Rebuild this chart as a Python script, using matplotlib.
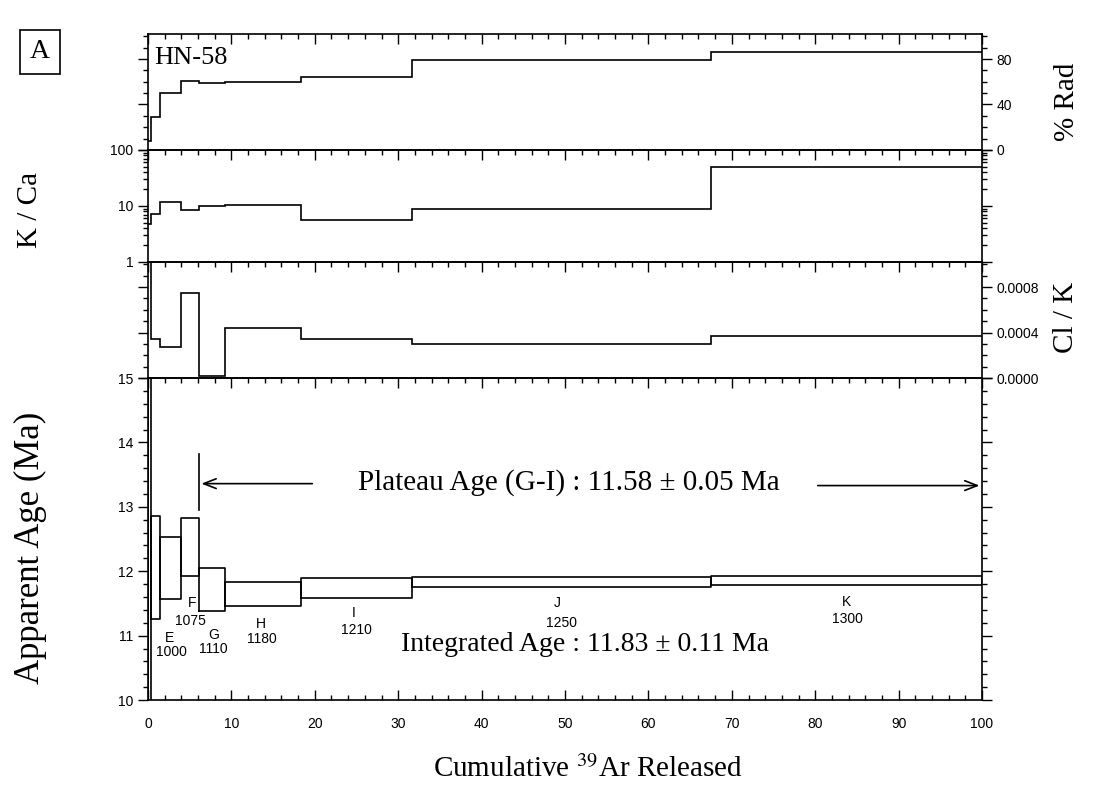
import matplotlib
matplotlib.use('Agg')
import matplotlib.pyplot as plt
from matplotlib.ticker import MultipleLocator, FormatStrFormatter, FuncFormatter, LogLocator, NullFormatter

plt.rcParams['font.family'] = ['Liberation Sans', 'DejaVu Sans']
plt.rcParams['mathtext.fontset'] = 'stix'
serif = ['Liberation Serif', 'DejaVu Serif']

# heating steps: cumulative % 39Ar released at step boundaries
edges = [0, 0.32, 1.5, 4.0, 6.1, 9.2, 18.3, 31.6, 67.5, 100]
rad = [8, 29, 50, 61, 59, 60, 64, 79, 86]                       # % radiogenic
kca = [4.7, 7.3, 11.6, 8.5, 9.8, 10.3, 5.7, 8.7, 50]            # K / Ca
clk = [0.0015, 0.000347, 0.000274, 0.000748, 0.00002,
       0.00044, 0.000345, 0.0003, 0.000365]                      # Cl / K
age_lo = [9.0, 11.26, 11.57, 11.93, 11.39, 11.46, 11.58, 11.75, 11.79]
age_hi = [16.0, 12.85, 12.53, 12.82, 12.05, 11.84, 11.90, 11.91, 11.93]

step_names = ['E', 'F', 'G', 'H', 'I', 'J', 'K']
step_temps = ['1000', '1075', '1110', '1180', '1210', '1250', '1300']
# label placement (x in % 39Ar, y in Ma)
name_xy = [(2.55, 10.97), (5.3, 11.5), (7.9, 11.01), (13.5, 11.18),
           (24.7, 11.35), (49.1, 11.51), (83.8, 11.52)]
temp_xy = [(2.8, 10.75), (5.1, 11.22), (7.8, 10.79), (13.6, 10.95),
           (25.0, 11.09), (49.6, 11.2), (83.9, 11.26)]

plateau_text = 'Plateau Age (G-I) : 11.58 ± 0.05 Ma'
integrated_text = 'Integrated Age : 11.83 ± 0.11 Ma'

LW = 1.2
fig = plt.figure(figsize=(10.97, 7.91), dpi=100)
L, W = 0.1349, 0.7603
ax_rad = fig.add_axes([L, 0.8104, W, 0.1466])
ax_kca = fig.add_axes([L, 0.6688, W, 0.1416])
ax_clk = fig.add_axes([L, 0.5221, W, 0.1467])
ax_age = fig.add_axes([L, 0.1150, W, 0.4071])


def style(ax, bottom=False):
    ax.patch.set_alpha(0)
    ax.set_xlim(0, 100)
    ax.xaxis.set_major_locator(MultipleLocator(10))
    ax.xaxis.set_minor_locator(MultipleLocator(2))
    ax.tick_params(axis='x', which='both', direction='in', top=True,
                   bottom=bottom, labelbottom=bottom, labelsize=10, pad=12)
    ax.tick_params(axis='y', which='both', direction='out', left=True,
                   right=True, labelsize=10)
    ax.tick_params(which='major', length=7, width=1)
    ax.tick_params(which='minor', length=3.5, width=1)
    for s in ax.spines.values():
        s.set_linewidth(LW)


# % Rad
ax_rad.stairs(rad, edges, baseline=None, color='k', lw=LW)
ax_rad.set_ylim(0, 102)
ax_rad.yaxis.set_major_locator(MultipleLocator(40))
ax_rad.yaxis.set_minor_locator(MultipleLocator(10))
style(ax_rad)
ax_rad.tick_params(axis='y', labelleft=False, labelright=True)
ax_rad.text(0.008, 0.79, 'HN-58', transform=ax_rad.transAxes, family=serif,
            fontsize=19, ha='left', va='center')

# K / Ca
ax_kca.stairs(kca, edges, baseline=None, color='k', lw=LW)
ax_kca.set_yscale('log')
ax_kca.set_ylim(1, 100)
ax_kca.yaxis.set_major_locator(LogLocator(base=10, numticks=5))
ax_kca.yaxis.set_minor_locator(LogLocator(base=10, subs=range(2, 10), numticks=20))
ax_kca.yaxis.set_major_formatter(FuncFormatter(lambda v, p: f'{v:g}'))
ax_kca.yaxis.set_minor_formatter(NullFormatter())
style(ax_kca)

# Cl / K
ax_clk.stairs(clk, edges, baseline=None, color='k', lw=LW)
ax_clk.set_ylim(0, 0.00102)
ax_clk.yaxis.set_major_locator(MultipleLocator(0.0004))
ax_clk.yaxis.set_minor_locator(MultipleLocator(0.0001))
ax_clk.yaxis.set_major_formatter(FormatStrFormatter('%.4f'))
style(ax_clk)
ax_clk.tick_params(axis='y', labelleft=False, labelright=True)

# apparent age spectrum
for x0, x1, lo, hi in zip(edges[:-1], edges[1:], age_lo, age_hi):
    ax_age.plot([x0, x0, x1, x1, x0], [lo, hi, hi, lo, lo], color='k', lw=LW)
ax_age.set_ylim(10, 15)
ax_age.yaxis.set_major_locator(MultipleLocator(1))
ax_age.yaxis.set_minor_locator(MultipleLocator(0.2))
style(ax_age, bottom=True)

for name, (x, y) in zip(step_names, name_xy):
    ax_age.text(x, y, name, fontsize=10, ha='center', va='center')
for t, (x, y) in zip(step_temps, temp_xy):
    ax_age.text(x, y, t, fontsize=10, ha='center', va='center')

# plateau marker and arrows
ax_age.plot([6.1, 6.1], [12.95, 13.82], color='k', lw=LW)
arrow = dict(arrowstyle='->,head_length=0.9,head_width=0.35', lw=LW, color='k',
             shrinkA=0, shrinkB=0)
ax_age.annotate('', xy=(6.4, 13.36), xytext=(19.7, 13.36), arrowprops=arrow)
ax_age.annotate('', xy=(99.7, 13.33), xytext=(80.3, 13.33), arrowprops=arrow)
ax_age.text(50.5, 13.37, plateau_text, family=serif, fontsize=21,
            ha='center', va='center')
ax_age.text(52.4, 10.86, integrated_text, family=serif, fontsize=20,
            ha='center', va='center')

# axis titles
fig.text(30 / 1097, 1 - 210 / 791, 'K / Ca', family=serif, fontsize=21,
         rotation=90, ha='center', va='center')
fig.text(30 / 1097, 1 - 548 / 791, 'Apparent Age (Ma)', family=serif,
         fontsize=25, rotation=90, ha='center', va='center')
fig.text(1067 / 1097, 1 - 102 / 791, '% Rad', family=serif, fontsize=21,
         rotation=90, ha='center', va='center')
fig.text(1066 / 1097, 1 - 317 / 791, 'Cl / K', family=serif, fontsize=21,
         rotation=90, ha='center', va='center')
fig.text(588 / 1097, 1 - 769 / 791, 'Cumulative $^{39}$Ar Released',
         family=serif, fontsize=21, ha='center', va='center')
fig.text(40 / 1097, 1 - 52 / 791, 'A', family=serif, fontsize=20,
         ha='center', va='center',
         bbox=dict(boxstyle='square,pad=0.35', fc='white', ec='k', lw=LW))

fig.savefig('out.png', dpi=100)
